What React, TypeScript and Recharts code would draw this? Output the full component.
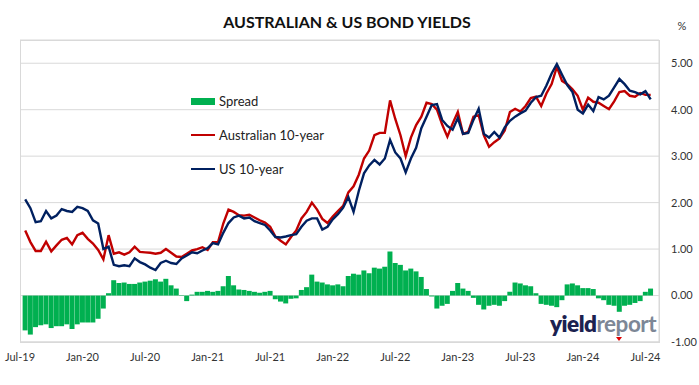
import React from "react";
import { ComposedChart, Bar, Line, XAxis, YAxis, CartesianGrid } from "recharts";

// half-monthly observations, mid-Jul 2019 .. mid-Jul 2024 (% p.a.)
const auYield = [
  1.40, 1.15, 0.96, 0.96, 1.16, 0.95, 1.08, 1.20, 1.24, 1.10, 1.30, 1.35, 1.22, 1.12, 0.98, 0.78,
  1.30, 0.90, 0.93, 0.88, 0.93, 1.05, 0.94, 0.93, 0.92, 0.90, 0.92, 1.00, 0.92, 0.84, 0.83, 0.90,
  0.97, 1.00, 1.04, 0.98, 1.15, 1.15, 1.55, 1.85, 1.80, 1.73, 1.72, 1.74, 1.68, 1.62, 1.57, 1.48,
  1.27, 1.18, 1.10, 1.26, 1.40, 1.66, 1.80, 2.00, 1.85, 1.65, 1.56, 1.70, 1.82, 1.93, 2.22, 2.35,
  2.60, 2.95, 3.12, 3.45, 3.50, 3.50, 4.20, 3.80, 3.45, 3.00, 3.40, 3.67, 3.85, 4.15, 4.12, 4.00,
  3.68, 3.42, 3.70, 3.95, 3.48, 3.52, 3.85, 3.88, 3.45, 3.20, 3.30, 3.38, 3.55, 3.95, 4.02, 3.96,
  4.08, 4.25, 4.28, 4.08, 4.35, 4.55, 4.92, 4.62, 4.55, 4.44, 4.30, 4.00, 4.26, 4.17, 4.15, 4.08,
  4.01, 4.18, 4.38, 4.40, 4.30, 4.28, 4.36, 4.32, 4.32,
];

const usYield = [
  2.07, 1.88, 1.58, 1.60, 1.82, 1.66, 1.72, 1.86, 1.82, 1.80, 1.91, 1.88, 1.82, 1.62, 1.55, 1.00,
  1.05, 0.66, 0.63, 0.65, 0.63, 0.80, 0.72, 0.67, 0.60, 0.55, 0.70, 0.75, 0.70, 0.68, 0.80, 0.86,
  0.93, 0.91, 0.97, 1.02, 1.13, 1.10, 1.35, 1.56, 1.68, 1.72, 1.66, 1.68, 1.60, 1.56, 1.52, 1.40,
  1.26, 1.25, 1.27, 1.30, 1.32, 1.48, 1.61, 1.66, 1.66, 1.42, 1.48, 1.64, 1.75, 1.89, 2.12, 1.80,
  2.25, 2.63, 2.80, 2.92, 2.82, 2.95, 3.35, 3.08, 2.95, 2.65, 2.95, 3.18, 3.60, 3.85, 4.10, 4.12,
  3.78, 3.65, 3.57, 3.82, 3.48, 3.50, 3.78, 4.02, 3.48, 3.40, 3.52, 3.40, 3.62, 3.76, 3.85, 3.92,
  3.98, 4.15, 4.27, 4.30, 4.52, 4.78, 4.98, 4.75, 4.53, 4.38, 4.00, 3.92, 4.11, 3.97, 4.27, 4.22,
  4.30, 4.48, 4.66, 4.55, 4.41, 4.38, 4.33, 4.40, 4.22,
];

const spread = [
  -0.75, -0.84, -0.68, -0.64, -0.62, -0.70, -0.66, -0.66, -0.62, -0.72, -0.62, -0.58, -0.58, -0.58, -0.50, -0.28,
  0.05, 0.33, 0.27, 0.28, 0.25, 0.25, 0.28, 0.30, 0.32, 0.35, 0.30, 0.36, 0.22, 0.15, 0.01, -0.12,
  0.02, 0.08, 0.08, 0.10, 0.08, 0.10, 0.20, 0.42, 0.22, 0.13, 0.12, 0.10, 0.08, 0.06, 0.08, 0.10,
  -0.08, -0.13, -0.17, -0.07, -0.06, 0.12, 0.18, 0.45, 0.30, 0.28, 0.24, 0.22, 0.24, 0.20, 0.42, 0.47,
  0.45, 0.54, 0.48, 0.60, 0.58, 0.62, 0.95, 0.70, 0.66, 0.54, 0.58, 0.52, 0.40, 0.14, -0.02, -0.28,
  -0.22, -0.18, 0.10, 0.27, 0.15, 0.10, -0.05, -0.20, -0.30, -0.22, -0.20, -0.22, -0.12, 0.08, 0.28, 0.26,
  0.22, 0.20, 0.05, -0.18, -0.20, -0.22, -0.25, -0.10, 0.24, 0.26, 0.22, 0.16, 0.16, 0.14, -0.06, -0.10,
  -0.20, -0.22, -0.35, -0.22, -0.20, -0.16, -0.12, 0.08, 0.15,
];

// one label every 12 half-months, starting Jul-19 at period 0
const tickLabels = ["Jul-19", "Jan-20", "Jul-20", "Jan-21", "Jul-21", "Jan-22", "Jul-22", "Jan-23", "Jul-23", "Jan-24", "Jul-24"];
const yTicks = [-1, 0, 1, 2, 3, 4, 5];

const FONT = "Lato, 'Open Sans', sans-serif";
const GREEN = "#00b050";
const RED = "#c00000";
const NAVY = "#002060";
const GRID = "#d9d9d9";

const xTicks = tickLabels.map((_, i) => i * 12);
const data = auYield.map((au, i) => ({ period: i + 1, au, us: usYield[i], spread: spread[i] }));

export default function App() {
  return (
    <div style={{ position: "absolute", left: 0, top: 0, width: 699, height: 385, background: "#fff", fontFamily: FONT }}>
      <ComposedChart width={699} height={385} data={data} margin={{ top: 40, right: 0, bottom: 13, left: 20 }}>
        <CartesianGrid vertical={false} stroke={GRID} />
        <XAxis
          dataKey="period"
          type="number"
          domain={[0, 122.6]}
          ticks={xTicks}
          tickFormatter={(v: number) => tickLabels[v / 12] ?? ""}
          tickLine={false}
          axisLine={{ stroke: GRID }}
          tickMargin={5}
          height={30}
          tick={{ fontSize: 11, fill: "#333", fontFamily: FONT }}
          interval={0}
        />
        <YAxis
          orientation="right"
          domain={[-1, 5.5]}
          ticks={yTicks}
          tickFormatter={(v: number) => v.toFixed(2)}
          width={40}
          tickLine={false}
          axisLine={{ stroke: GRID }}
          tickMargin={6}
          tick={{ fontSize: 11, fill: "#333", fontFamily: FONT }}
          allowDataOverflow
        />
        <Bar dataKey="spread" fill={GREEN} barSize={5} isAnimationActive={false} />
        <Line type="linear" dataKey="au" stroke={RED} strokeWidth={2.4} dot={false} isAnimationActive={false} />
        <Line type="linear" dataKey="us" stroke={NAVY} strokeWidth={2.4} dot={false} isAnimationActive={false} />
      </ComposedChart>
      <div
        style={{
          position: "absolute", left: 20, top: 40, width: 640, height: 303,
          border: `1px solid ${GRID}`, boxSizing: "border-box", pointerEvents: "none",
        }}
      />
      <svg width={699} height={385} style={{ position: "absolute", left: 0, top: 0, pointerEvents: "none" }} fontFamily={FONT}>
        <text x={347} y={28} textAnchor="middle" fontSize={16} fontWeight={700} fill="#111">
          AUSTRALIAN &amp; US BOND YIELDS
        </text>
        <text x={682} y={30} textAnchor="middle" fontSize={11} fill="#333">%</text>

        <rect x={191} y={98} width={24} height={7} fill={GREEN} />
        <text x={219} y={105.5} fontSize={13} fill="#222">Spread</text>
        <line x1={191} x2={215} y1={135} y2={135} stroke={RED} strokeWidth={2} />
        <text x={219} y={139.5} fontSize={13} fill="#222">Australian 10-year</text>
        <line x1={191} x2={215} y1={169} y2={169} stroke={NAVY} strokeWidth={2} />
        <text x={219} y={173.5} fontSize={13} fill="#222">US 10-year</text>

        <text x={550} y={332} fontSize={22.5} fontWeight={800} letterSpacing={-0.5}>
          <tspan fill="#1b2150">yield</tspan>
          <tspan fill="#7d8796" fontWeight={700}>report</tspan>
        </text>
        <polygon points="616,337 622,337 619,341" fill="#e00000" />
      </svg>
    </div>
  );
}
